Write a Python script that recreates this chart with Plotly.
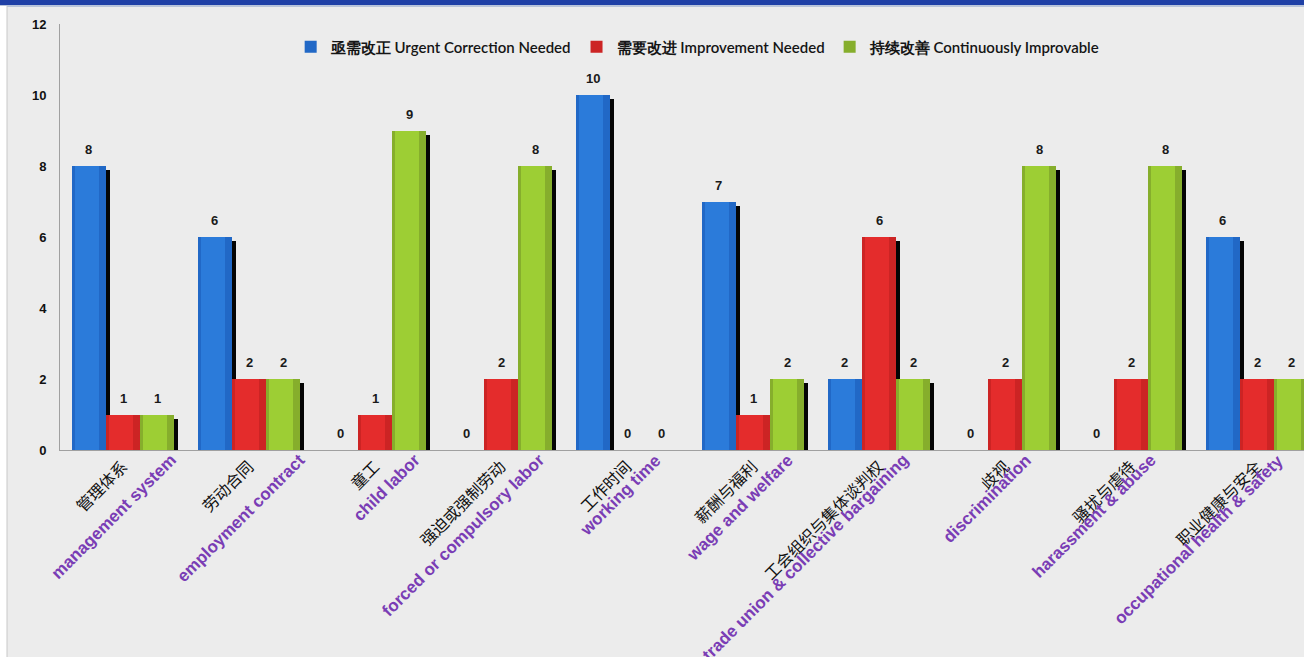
import plotly.graph_objects as go

# Audit categories (Chinese / English)
categories_cn = ["管理体系", "劳动合同", "童工", "强迫或强制劳动", "工作时间",
                 "薪酬与福利", "工会组织与集体谈判权", "歧视", "骚扰与虐待", "职业健康与安全"]
categories_en = ["management system", "employment contract", "child labor",
                 "forced or compulsory labor", "working time", "wage and welfare",
                 "trade union & collective bargaining", "discrimination",
                 "harassment & abuse", "occupational health & safety"]

# Finding counts per severity level
urgent = [8, 6, 0, 0, 10, 7, 2, 0, 0, 6]
improvement = [1, 2, 1, 2, 0, 1, 6, 2, 2, 2]
continuous = [1, 2, 9, 8, 0, 2, 2, 8, 8, 2]

series_names = ["亟需改正 Urgent Correction Needed",
                "需要改进 Improvement Needed",
                "持续改善 Continuously Improvable"]

# styling
edge_colors = ["#2168C6", "#CC2424", "#86AE2C"]
face_colors = ["#2B7BDA", "#E42C2C", "#9DCE34"]
bar_w = 0.27
shadow_dx = 0.035
shadow_dy = 0.12
en_label_shift_px = [60, 62, 52, 50, 40, 47, 36, 33, 31, 33]

xs = list(range(len(categories_cn)))
fig = go.Figure()

for k, (name, vals) in enumerate(zip(series_names, [urgent, improvement, continuous])):
    pos = [x + (k - 1) * bar_w for x in xs]
    # drop shadow behind each bar
    fig.add_trace(go.Bar(
        x=[p + shadow_dx for p in pos], y=[max(v - shadow_dy, 0) for v in vals],
        width=bar_w, marker=dict(color="#050505", line=dict(width=0)),
        showlegend=False, hoverinfo="skip"))
    # bar body
    fig.add_trace(go.Bar(
        x=pos, y=vals, width=bar_w, name=name,
        marker=dict(color=edge_colors[k], line=dict(width=0))))
    # lighter centre band
    fig.add_trace(go.Bar(
        x=[p - 0.015 for p in pos], y=vals, width=bar_w * 0.72,
        marker=dict(color=face_colors[k], line=dict(width=0)),
        showlegend=False, hoverinfo="skip"))
    # value labels
    for p, v in zip(pos, vals):
        fig.add_annotation(x=p, y=v, xref="x", yref="y", text=str(v),
                           showarrow=False, yanchor="bottom", yshift=7,
                           font=dict(family="Liberation Sans", size=13,
                                     color="#1a1a1a", weight="bold"))

# English category names in purple under the Chinese tick labels
for x, txt, sh in zip(xs, categories_en, en_label_shift_px):
    fig.add_annotation(x=x, y=0, xref="x", yref="y", text=txt, showarrow=False,
                       textangle=-45, xanchor="right", yanchor="top",
                       xshift=sh, yshift=2,
                       font=dict(family="Liberation Sans", size=17,
                                 color="#7A3DB5", weight="bold"))

# frame decoration: top band and left strip
fig.add_shape(type="rect", xref="paper", yref="paper", x0=-0.06, x1=1.01,
              y0=1.0446, y1=1.07, fillcolor="#1F40A6", line=dict(width=0), layer="below")
fig.add_shape(type="line", xref="paper", yref="paper", x0=-0.06, x1=1.01,
              y0=1.0423, y1=1.0423, line=dict(color="#B8C4DA", width=2), layer="below")
fig.add_shape(type="rect", xref="paper", yref="paper", x0=-0.06, x1=-0.0426,
              y0=-0.6, y1=1.0423, fillcolor="#FFFFFF", line=dict(width=0), layer="below")
fig.add_shape(type="line", xref="paper", yref="paper", x0=-0.0426, x1=-0.0426,
              y0=-0.6, y1=1.0423, line=dict(color="#C8C8C8", width=1), layer="below")

fig.update_layout(
    width=1304, height=657,
    margin=dict(l=60, r=0, t=24, b=207, pad=0),
    paper_bgcolor="#ECECEC", plot_bgcolor="#ECECEC",
    barmode="overlay", bargap=0,
    showlegend=True,
    legend=dict(orientation="h", x=0.513, xanchor="center", y=0.946, yanchor="middle",
                bgcolor="rgba(0,0,0,0)", itemwidth=30,
                font=dict(family="Lato", size=15, color="#151515", weight=600)),
    xaxis=dict(range=[-0.5, 9.373], tickvals=xs, ticktext=categories_cn,
               tickangle=-45, showline=True, linecolor="#A0A0A0", linewidth=1,
               showgrid=False, zeroline=False, automargin=False, ticks="",
               tickfont=dict(family="Noto Sans CJK SC", size=16, color="#111111")),
    yaxis=dict(range=[0, 12], dtick=2, showline=True, linecolor="#A0A0A0", linewidth=1,
               showgrid=False, zeroline=False, automargin=False, ticks="",
               ticklabelstandoff=10,
               tickfont=dict(family="Liberation Sans", size=13, color="#111111",
                             weight="bold")),
)

fig.write_html("out.html")
